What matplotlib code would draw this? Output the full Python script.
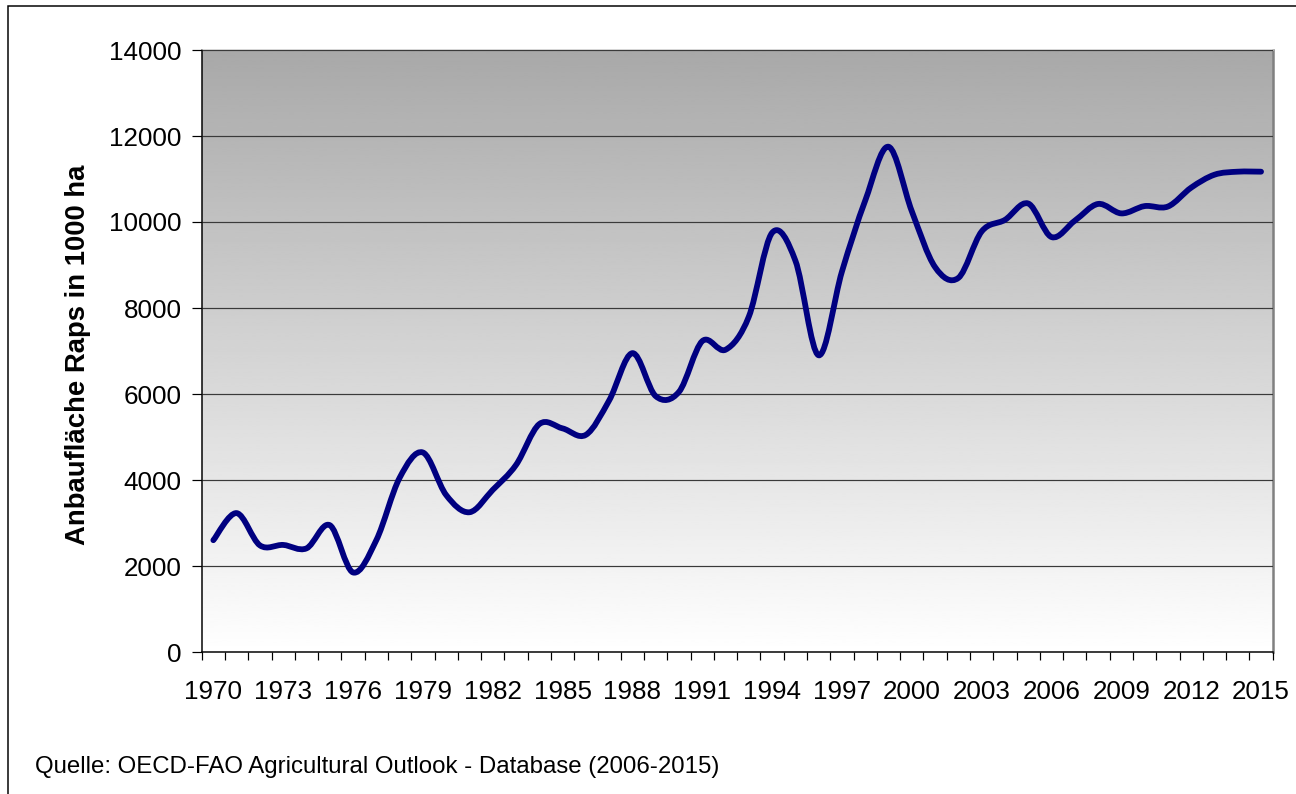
import numpy as np
import matplotlib
matplotlib.use("Agg")
from matplotlib import pyplot as plt
from matplotlib.path import Path
from matplotlib.patches import PathPatch, Rectangle

# --- Daten (Anbaufläche Raps, 1000 ha) ---
years = list(range(1970, 2016))
area = [2600, 3230, 2480, 2490, 2410, 2950, 1850, 2600, 4050, 4640,
        3650, 3250, 3770, 4350, 5300, 5200, 5050, 5850, 6950, 5950,
        6050, 7230, 7030, 7800, 9750, 9100, 6900, 8850, 10500, 11750,
        10250, 8950, 8700, 9780, 10050, 10430, 9650, 10030, 10420, 10200,
        10370, 10360, 10800, 11100, 11170, 11170]
label_years = years[::3]
y_ticks = list(range(0, 14001, 2000))

y_label = "Anbaufläche Raps in 1000 ha"
source = "Quelle: OECD-FAO Agricultural Outlook - Database (2006-2015)"

plt.rcParams['font.family'] = ['Liberation Sans', 'DejaVu Sans']

W, H, DPI = 1296, 794, 72
fig = plt.figure(figsize=(W / DPI, H / DPI), dpi=DPI)
ax = fig.add_axes([201.7 / W, 1 - 652 / H, (1272.7 - 201.7) / W, (652 - 50) / H])

# Hintergrund: Verlauf grau (oben) -> weiß (unten)
grad = np.linspace(0, 1, 256).reshape(-1, 1)
ax.imshow(grad, cmap='gray', vmin=-1.95, vmax=1.0, aspect='auto',
          extent=[0, 1, 0, 1], transform=ax.transAxes, zorder=0,
          origin='upper', interpolation='bilinear')

# --- geglättete Linie (wie Excel "Linie glätten") ---
x = np.array(years, dtype=float)
y = np.array(area, dtype=float)
verts = [(x[0], y[0])]
codes = [Path.MOVETO]
n = len(x)
for i in range(n - 1):
    p0 = np.array([x[max(i - 1, 0)], y[max(i - 1, 0)]])
    p1 = np.array([x[i], y[i]])
    p2 = np.array([x[i + 1], y[i + 1]])
    p3 = np.array([x[min(i + 2, n - 1)], y[min(i + 2, n - 1)]])
    c1 = p1 + (p2 - p0) / 6.0
    c2 = p2 - (p3 - p1) / 6.0
    verts += [tuple(c1), tuple(c2), tuple(p2)]
    codes += [Path.CURVE4] * 3
line = PathPatch(Path(verts, codes), facecolor='none', edgecolor='#000080',
                 lw=5.8, capstyle='round', joinstyle='round', zorder=3)
ax.add_patch(line)

ax.set_xlim(1969.5, 2015.5)
ax.set_ylim(0, 14000)

# Gitter
ax.set_yticks(y_ticks)
ax.yaxis.grid(True, color='#3a3a3a', lw=1.2, zorder=1)
ax.set_axisbelow(False)
for gl in ax.get_ygridlines():
    gl.set_zorder(1)

# X-Achse: Striche an Kategoriegrenzen, Beschriftung jedes 3. Jahr
ax.set_xticks(np.arange(1969.5, 2016, 1.0))
ax.set_xticklabels([])
ax.set_xticks(label_years, minor=True)
ax.set_xticklabels([str(v) for v in label_years], minor=True)
ax.tick_params(axis='x', which='major', direction='out', length=8, width=1.2, color='black')
ax.tick_params(axis='x', which='minor', length=0, pad=28, labelsize=26)
ax.tick_params(axis='y', direction='out', length=10, width=1.2, pad=10, labelsize=26)

for s in ['left', 'bottom']:
    ax.spines[s].set_color('black')
    ax.spines[s].set_linewidth(1.5)
ax.spines['right'].set_color('#808080')
ax.spines['right'].set_linewidth(2.5)
ax.spines['top'].set_color('#c8c8c8')
ax.spines['top'].set_linewidth(1.5)

ax.set_ylabel(y_label, fontsize=27.5, fontweight='bold')
ax.yaxis.set_label_coords(-(201.7 - 91) / (1272.7 - 201.7), 0.5 - 4 / 602)

fig.text(35 / W, 1 - 767 / H, source, fontsize=24, va='center', ha='left')

# Rahmen um das Diagramm
fig.patches.append(Rectangle((8 / W, -0.05), 1.2, 1 - 6 / H + 0.05,
                             transform=fig.transFigure, fill=False,
                             edgecolor='black', lw=1.5))

fig.savefig("out.png", dpi=DPI, facecolor='white')
